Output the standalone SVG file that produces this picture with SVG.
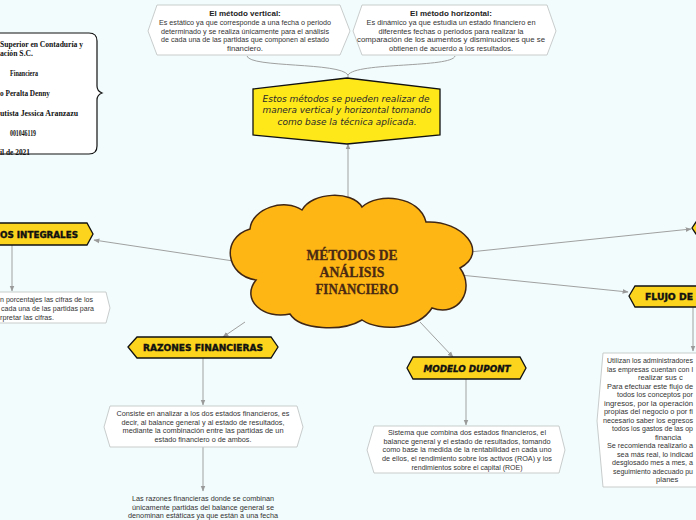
<svg xmlns="http://www.w3.org/2000/svg" width="696" height="520" viewBox="0 0 696 520">
<defs>
<marker id="ah" viewBox="0 0 10 10" refX="9" refY="5" markerWidth="6" markerHeight="6" orient="auto"><path d="M0,1 L10,5 L0,9 z" fill="#9a9a9a"/></marker>
<style>
.bg{fill:#F2FCFC}
.con{fill:none;stroke:#a0a0a0;stroke-width:1}
.box{fill:#ffffff;stroke:#c9cccc;stroke-width:1}
.tag{fill:#FCD41E;stroke:#111;stroke-width:1.3}
.t{font-family:"Liberation Sans",Arial,sans-serif;font-size:7.8px;fill:#333;text-anchor:middle}
.ts{font-family:"Liberation Sans",Arial,sans-serif;font-size:7.6px;fill:#333}
.th{font-family:"Liberation Sans",Arial,sans-serif;font-size:8px;font-weight:bold;fill:#222;text-anchor:middle}
.lbl{font-family:"DejaVu Sans",sans-serif;font-size:8px;font-weight:bold;fill:#111;stroke:#111;stroke-width:0.35;text-anchor:middle}
.card{font-family:"Liberation Serif",serif;font-size:8px;font-weight:bold;fill:#111}
.hand{font-family:"DejaVu Sans",sans-serif;font-style:italic;font-size:8.6px;fill:#2a2a2a;text-anchor:middle}
.main{font-family:"Liberation Serif",serif;font-weight:bold;font-size:15px;fill:#4a2a12;stroke:#4a2a12;stroke-width:0.3;text-anchor:middle}
</style>
</defs>
<rect class="bg" x="0" y="0" width="696" height="520"/>

<g id="connectors">
<path class="con" d="M247,56 C250,68 340,62 348,75"/>
<path class="con" d="M455,56 C452,68 356,62 348,75"/>
<path class="con" d="M348,75 L348,80"/>
<path class="con" d="M348,200 L348,144" marker-end="url(#ah)"/>
<path class="con" d="M240,262 L94,240" marker-end="url(#ah)"/>
<path class="con" d="M12,245 L12,291" marker-end="url(#ah)"/>
<path class="con" d="M245,322 L223,337" marker-end="url(#ah)"/>
<path class="con" d="M203,358 L203,405" marker-end="url(#ah)"/>
<path class="con" d="M203,447 L203,491" marker-end="url(#ah)"/>
<path class="con" d="M420,322 L453,357" marker-end="url(#ah)"/>
<path class="con" d="M466,379 L466,425" marker-end="url(#ah)"/>
<path class="con" d="M460,253 L691,229" marker-end="url(#ah)"/>
<path class="con" d="M460,275 L628,292" marker-end="url(#ah)"/>
<path class="con" d="M693,307 L693,351" marker-end="url(#ah)"/>
</g>

<g id="info-card">
<path d="M-10,33 H89 Q97,33 97,41 V86 Q97,91 102,93 Q97,95 97,100 V146 Q97,154 89,154 H-10 Z" fill="#fff" stroke="#111" stroke-width="1.2"/>
<text class="card" x="0" y="47" textLength="83" lengthAdjust="spacingAndGlyphs">Superior en Contaduría y</text>
<text class="card" x="0" y="56" textLength="33" lengthAdjust="spacingAndGlyphs">ación S.C.</text>
<text class="card" x="10" y="76" textLength="28" lengthAdjust="spacingAndGlyphs">Financiera</text>
<text class="card" x="0" y="96" textLength="50" lengthAdjust="spacingAndGlyphs">o Peralta Denny</text>
<text class="card" x="0" y="116" textLength="78" lengthAdjust="spacingAndGlyphs">utista Jessica Aranzazu</text>
<text class="card" x="10" y="136" textLength="26" lengthAdjust="spacingAndGlyphs">001046119</text>
<text class="card" x="0" y="155" textLength="30" lengthAdjust="spacingAndGlyphs">il de 2021</text>
</g>

<g id="metodo-vertical">
<polygon class="box" points="148,31 157,5 340,5 350,31 340,55 157,55"/>
<text class="th" x="245" y="16">El método vertical:</text>
<text class="t" x="245" y="25" textLength="172" lengthAdjust="spacingAndGlyphs">Es estático ya que corresponde a una fecha o periodo</text>
<text class="t" x="245" y="33.5" textLength="168" lengthAdjust="spacingAndGlyphs">determinado y se realiza únicamente para el análisis</text>
<text class="t" x="245" y="42" textLength="168" lengthAdjust="spacingAndGlyphs">de cada una de las partidas que componen al estado</text>
<text class="t" x="245" y="50.5">financiero.</text>
</g>

<g id="metodo-horizontal">
<polygon class="box" points="353,31 362,5 547,5 556,31 547,55 362,55"/>
<text class="th" x="451" y="16">El método horizontal:</text>
<text class="t" x="451" y="25" textLength="169" lengthAdjust="spacingAndGlyphs">Es dinámico ya que estudia un estado financiero en</text>
<text class="t" x="451" y="33.5" textLength="145" lengthAdjust="spacingAndGlyphs">diferentes fechas o periodos para realizar la</text>
<text class="t" x="451" y="42" textLength="188" lengthAdjust="spacingAndGlyphs">comparación de los aumentos y disminuciones que se</text>
<text class="t" x="451" y="50.5" textLength="124" lengthAdjust="spacingAndGlyphs">obtienen de acuerdo a los resultados.</text>
</g>

<g id="nota-tecnica">
<polygon points="253,89 347,78 440,89 440,135 347,144 253,135" fill="#FFE819" stroke="#111" stroke-width="1.3"/>
<text class="hand" x="346" y="102" textLength="167" lengthAdjust="spacingAndGlyphs">Estos métodos se pueden realizar de</text>
<text class="hand" x="347" y="113" textLength="169" lengthAdjust="spacingAndGlyphs">manera vertical y horizontal tomando</text>
<text class="hand" x="347" y="125" textLength="139" lengthAdjust="spacingAndGlyphs">como base la técnica aplicada.</text>
</g>

<g id="central">
<path d="M256,280 C226,276 220,238 250,229 C252,208 285,198 302,210 C312,192 352,190 362,207 C378,192 420,196 426,222 C462,220 490,252 460,268 C476,290 458,318 432,308 C418,330 380,332 362,320 C342,332 300,330 290,314 C264,320 240,300 256,280 Z" fill="#FDB614" stroke="#3f2615" stroke-width="1.5"/>
<text class="main" x="352" y="260" textLength="91" lengthAdjust="spacingAndGlyphs">MÉTODOS DE</text>
<text class="main" x="352" y="277" textLength="65" lengthAdjust="spacingAndGlyphs">ANÁLISIS</text>
<text class="main" x="357" y="294" textLength="83" lengthAdjust="spacingAndGlyphs">FINANCIERO</text>
</g>

<g id="integrales">
<polygon class="tag" points="-10,223 87,223 93,234 87,245 -10,245"/>
<text class="lbl" x="0" y="237.5" textLength="78" lengthAdjust="spacingAndGlyphs" style="text-anchor:start">OS INTEGRALES</text>
</g>
<g id="integrales-texto">
<polygon class="box" points="-10,292 106,292 110,308 106,323 -10,323"/>
<text class="ts" x="0" y="302" textLength="93" lengthAdjust="spacingAndGlyphs">n porcentajes las cifras de los</text>
<text class="ts" x="1" y="311" textLength="93" lengthAdjust="spacingAndGlyphs">cada una de las partidas para</text>
<text class="ts" x="0" y="320" textLength="54" lengthAdjust="spacingAndGlyphs">rpretar las cifras.</text>
</g>

<g id="razones">
<polygon class="tag" points="128,347 137,337 271,337 278,347 271,358 137,358"/>
<text class="lbl" x="203" y="351" textLength="120" lengthAdjust="spacingAndGlyphs">RAZONES FINANCIERAS</text>
</g>
<g id="razones-texto">
<polygon class="box" points="104,427 110,406 297,406 303,427 297,447 110,447"/>
<text class="t" x="203" y="416" textLength="173" lengthAdjust="spacingAndGlyphs">Consiste en analizar a los dos estados financieros, es</text>
<text class="t" x="203" y="424.5" textLength="163" lengthAdjust="spacingAndGlyphs">decir, al balance general y al estado de resultados,</text>
<text class="t" x="203" y="433" textLength="161" lengthAdjust="spacingAndGlyphs">mediante la combinación entre las partidas de un</text>
<text class="t" x="203" y="441.5" textLength="97" lengthAdjust="spacingAndGlyphs">estado financiero o de ambos.</text>
</g>
<g id="razones-estaticas">
<text class="t" x="203" y="501" textLength="142" lengthAdjust="spacingAndGlyphs">Las razones financieras donde se combinan</text>
<text class="t" x="203" y="509.5" textLength="142" lengthAdjust="spacingAndGlyphs">únicamente partidas del balance general se</text>
<text class="t" x="203" y="518" textLength="150" lengthAdjust="spacingAndGlyphs">denominan estáticas ya que están a una fecha</text>
</g>

<g id="dupont">
<polygon class="tag" points="407,368 413,357 520,357 526,368 520,379 413,379"/>
<text class="lbl" x="467" y="371.5" font-style="italic" textLength="87" lengthAdjust="spacingAndGlyphs">MODELO DUPONT</text>
</g>
<g id="dupont-texto">
<polygon class="box" points="367,450 374,426 559,426 565,450 559,473 374,473"/>
<text class="t" x="467" y="435" textLength="158" lengthAdjust="spacingAndGlyphs">Sistema que combina dos estados financieros, el</text>
<text class="t" x="467" y="443.7" textLength="167" lengthAdjust="spacingAndGlyphs">balance general y el estado de resultados, tomando</text>
<text class="t" x="467" y="452.4" textLength="169" lengthAdjust="spacingAndGlyphs">como base la medida de la rentabilidad en cada uno</text>
<text class="t" x="467" y="461.1" textLength="170" lengthAdjust="spacingAndGlyphs">de ellos, el rendimiento sobre los activos (ROA) y los</text>
<text class="t" x="467" y="469.8" textLength="111" lengthAdjust="spacingAndGlyphs">rendimientos sobre el capital (ROE)</text>
</g>

<g id="nodo-derecho">
<polygon class="tag" points="692,228 696,222 702,222 702,234 696,234"/>
</g>

<g id="flujo">
<polygon class="tag" points="629,296 635,286 702,286 702,307 635,307"/>
<text class="lbl" x="645" y="299.5" style="text-anchor:start" textLength="48" lengthAdjust="spacingAndGlyphs">FLUJO DE</text>
</g>
<g id="flujo-texto">
<polygon class="box" points="597,421 603,353 702,353 702,487 603,487"/>
<text class="ts" x="607" y="363" textLength="86" lengthAdjust="spacingAndGlyphs">Utilizan los administradores</text>
<text class="ts" x="607" y="371.5" textLength="86" lengthAdjust="spacingAndGlyphs">las empresas cuentan con l</text>
<text class="ts" x="638" y="380">realizar sus c</text>
<text class="ts" x="607" y="388.5" textLength="86" lengthAdjust="spacingAndGlyphs">Para efectuar este flujo de</text>
<text class="ts" x="617" y="397" textLength="76" lengthAdjust="spacingAndGlyphs">todos los conceptos por</text>
<text class="ts" x="604" y="405.5" textLength="89" lengthAdjust="spacingAndGlyphs">ingresos, por la operación</text>
<text class="ts" x="604" y="414" textLength="89" lengthAdjust="spacingAndGlyphs">propias del negocio o por fi</text>
<text class="ts" x="603" y="422.5" textLength="90" lengthAdjust="spacingAndGlyphs">necesario saber los egresos</text>
<text class="ts" x="612" y="431" textLength="81" lengthAdjust="spacingAndGlyphs">todos los gastos de las op</text>
<text class="ts" x="655" y="439.5">financia</text>
<text class="ts" x="607" y="448" textLength="86" lengthAdjust="spacingAndGlyphs">Se recomienda realizarlo a</text>
<text class="ts" x="617" y="456.5" textLength="76" lengthAdjust="spacingAndGlyphs">sea más real, lo indicad</text>
<text class="ts" x="612" y="465" textLength="81" lengthAdjust="spacingAndGlyphs">desglosado mes a mes, a</text>
<text class="ts" x="613" y="473.5" textLength="80" lengthAdjust="spacingAndGlyphs">seguimiento adecuado pu</text>
<text class="ts" x="656" y="482">planes</text>
</g>
</svg>
